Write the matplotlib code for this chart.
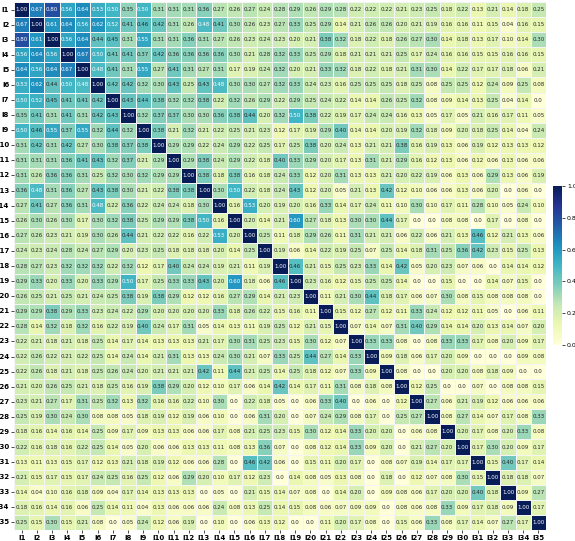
import numpy as np
import seaborn as sns
from matplotlib import pyplot as plt

names = ['I%d' % i for i in range(1, 36)]

# upper triangle of the matrix, row i holds columns i..35
upper = [
    [1.00, 0.67, 0.80, 0.56, 0.64, 0.53, 0.50, 0.35, 0.50, 0.31, 0.31, 0.31, 0.36, 0.27, 0.26, 0.27, 0.24, 0.28,
     0.29, 0.26, 0.29, 0.28, 0.22, 0.22, 0.22, 0.21, 0.23, 0.25, 0.18, 0.22, 0.13, 0.21, 0.14, 0.18, 0.25],
    [1.00, 0.61, 0.64, 0.56, 0.62, 0.52, 0.41, 0.46, 0.42, 0.31, 0.26, 0.48, 0.41, 0.30, 0.26, 0.23, 0.27,
     0.33, 0.25, 0.29, 0.14, 0.21, 0.26, 0.26, 0.20, 0.21, 0.19, 0.16, 0.16, 0.11, 0.15, 0.04, 0.16, 0.15],
    [1.00, 0.56, 0.64, 0.44, 0.45, 0.31, 0.55, 0.31, 0.31, 0.36, 0.31, 0.27, 0.26, 0.23, 0.24, 0.23,
     0.20, 0.21, 0.38, 0.32, 0.18, 0.22, 0.18, 0.26, 0.27, 0.30, 0.14, 0.18, 0.13, 0.17, 0.10, 0.14, 0.30],
    [1.00, 0.67, 0.50, 0.41, 0.41, 0.37, 0.42, 0.36, 0.36, 0.36, 0.36, 0.30, 0.21, 0.28, 0.32,
     0.33, 0.25, 0.29, 0.18, 0.21, 0.21, 0.21, 0.25, 0.17, 0.24, 0.16, 0.16, 0.15, 0.15, 0.16, 0.16, 0.15],
    [1.00, 0.48, 0.41, 0.31, 0.55, 0.27, 0.41, 0.31, 0.27, 0.31, 0.17, 0.19, 0.24, 0.32,
     0.20, 0.21, 0.33, 0.32, 0.18, 0.22, 0.18, 0.21, 0.31, 0.30, 0.14, 0.22, 0.17, 0.17, 0.18, 0.06, 0.21],
    [1.00, 0.42, 0.42, 0.32, 0.30, 0.43, 0.25, 0.43, 0.48, 0.30, 0.30, 0.27, 0.32,
     0.33, 0.24, 0.23, 0.16, 0.25, 0.25, 0.25, 0.18, 0.25, 0.08, 0.25, 0.25, 0.12, 0.24, 0.09, 0.25, 0.08],
    [1.00, 0.43, 0.44, 0.38, 0.32, 0.32, 0.38, 0.22, 0.32, 0.26, 0.29, 0.22,
     0.29, 0.25, 0.24, 0.22, 0.14, 0.14, 0.26, 0.25, 0.32, 0.08, 0.09, 0.14, 0.13, 0.25, 0.04, 0.14, 0.0],
    [1.00, 0.32, 0.37, 0.37, 0.30, 0.30, 0.36, 0.38, 0.44, 0.20, 0.32,
     0.50, 0.38, 0.22, 0.19, 0.17, 0.24, 0.24, 0.16, 0.13, 0.05, 0.17, 0.05, 0.21, 0.16, 0.17, 0.11, 0.05],
    [1.00, 0.38, 0.21, 0.32, 0.21, 0.22, 0.25, 0.21, 0.23, 0.12,
     0.17, 0.19, 0.29, 0.40, 0.14, 0.14, 0.20, 0.19, 0.32, 0.18, 0.09, 0.20, 0.18, 0.25, 0.14, 0.04, 0.24],
    [1.00, 0.29, 0.29, 0.22, 0.24, 0.29, 0.22, 0.25, 0.17,
     0.25, 0.38, 0.20, 0.24, 0.13, 0.21, 0.21, 0.38, 0.16, 0.19, 0.13, 0.06, 0.19, 0.12, 0.13, 0.13, 0.12],
    [1.00, 0.29, 0.38, 0.24, 0.29, 0.22, 0.18, 0.40,
     0.33, 0.29, 0.20, 0.17, 0.13, 0.31, 0.21, 0.29, 0.16, 0.12, 0.13, 0.06, 0.12, 0.06, 0.13, 0.06, 0.06],
    [1.00, 0.38, 0.18, 0.38, 0.16, 0.18, 0.24,
     0.33, 0.12, 0.20, 0.31, 0.13, 0.13, 0.21, 0.20, 0.22, 0.19, 0.06, 0.13, 0.06, 0.29, 0.13, 0.06, 0.19],
    [1.00, 0.30, 0.50, 0.22, 0.18, 0.24,
     0.43, 0.12, 0.20, 0.05, 0.21, 0.13, 0.42, 0.12, 0.10, 0.06, 0.06, 0.13, 0.06, 0.20, 0.0, 0.06, 0.0],
    [1.00, 0.16, 0.53, 0.20, 0.19,
     0.20, 0.16, 0.33, 0.14, 0.17, 0.24, 0.11, 0.10, 0.30, 0.10, 0.17, 0.11, 0.28, 0.10, 0.05, 0.24, 0.10],
    [1.00, 0.20, 0.14, 0.21,
     0.60, 0.27, 0.18, 0.13, 0.30, 0.30, 0.44, 0.17, 0.0, 0.0, 0.08, 0.08, 0.0, 0.17, 0.0, 0.08, 0.0],
    [1.00, 0.25, 0.11,
     0.18, 0.29, 0.26, 0.11, 0.31, 0.21, 0.21, 0.06, 0.22, 0.06, 0.21, 0.13, 0.46, 0.12, 0.21, 0.13, 0.06],
    [1.00, 0.19,
     0.06, 0.14, 0.22, 0.19, 0.25, 0.07, 0.25, 0.14, 0.18, 0.31, 0.25, 0.36, 0.42, 0.23, 0.15, 0.25, 0.13],
    [1.00,
     0.46, 0.21, 0.15, 0.25, 0.23, 0.33, 0.14, 0.42, 0.05, 0.20, 0.23, 0.07, 0.06, 0.0, 0.14, 0.14, 0.12],
    [1.00, 0.23, 0.16, 0.12, 0.15, 0.25, 0.25, 0.14, 0.0, 0.0, 0.15, 0.0, 0.0, 0.14, 0.07, 0.15, 0.0],
    [1.00, 0.11, 0.21, 0.30, 0.44, 0.18, 0.17, 0.06, 0.07, 0.30, 0.08, 0.15, 0.08, 0.08, 0.08, 0.0],
    [1.00, 0.15, 0.12, 0.27, 0.12, 0.11, 0.33, 0.24, 0.12, 0.12, 0.11, 0.05, 0.0, 0.06, 0.11],
    [1.00, 0.07, 0.14, 0.07, 0.31, 0.40, 0.29, 0.14, 0.14, 0.20, 0.13, 0.14, 0.07, 0.20],
    [1.00, 0.33, 0.33, 0.08, 0.0, 0.08, 0.33, 0.33, 0.17, 0.08, 0.20, 0.09, 0.17],
    [1.00, 0.09, 0.18, 0.06, 0.17, 0.20, 0.09, 0.0, 0.0, 0.0, 0.09, 0.08],
    [1.00, 0.08, 0.0, 0.0, 0.20, 0.20, 0.08, 0.18, 0.09, 0.0, 0.0],
    [1.00, 0.12, 0.25, 0.0, 0.0, 0.07, 0.0, 0.08, 0.08, 0.15],
    [1.00, 0.27, 0.06, 0.21, 0.19, 0.12, 0.06, 0.06, 0.06],
    [1.00, 0.08, 0.27, 0.14, 0.07, 0.17, 0.08, 0.33],
    [1.00, 0.20, 0.17, 0.08, 0.20, 0.33, 0.08],
    [1.00, 0.17, 0.30, 0.20, 0.09, 0.17],
    [1.00, 0.15, 0.40, 0.17, 0.14],
    [1.00, 0.18, 0.18, 0.07],
    [1.00, 0.09, 0.27],
    [1.00, 0.17],
    [1.00],
]

n = len(names)
corr = np.zeros((n, n))
for i, row in enumerate(upper):
    corr[i, i:] = row
    corr[i:, i] = row

labels = np.array([['0.0' if v == 0 else '%.2f' % v for v in r] for r in corr])

fig = plt.figure(figsize=(5.75, 5.41), dpi=100)
ax = fig.add_axes([14 / 575, 11 / 541, 532 / 575, 528 / 541])
cax = fig.add_axes([553 / 575, 196 / 541, 9 / 575, 159 / 541])

sns.heatmap(corr, ax=ax, cbar_ax=cax, cmap='YlGnBu', vmin=0, vmax=1,
            annot=labels, fmt='', annot_kws={'fontsize': 4},
            linewidths=0.4, linecolor='#f4f4f4',
            xticklabels=names, yticklabels=names)

ax.tick_params(axis='both', length=2, width=0.5, pad=1.5, labelsize=5)
for t in ax.get_xticklabels() + ax.get_yticklabels():
    t.set_fontweight('bold')
ax.set_xticklabels(ax.get_xticklabels(), rotation=0)
ax.set_yticklabels(ax.get_yticklabels(), rotation=0)

cax.tick_params(labelsize=4.5, length=2, width=0.5, pad=1.5)
cax.set_yticks([0.0, 0.2, 0.4, 0.6, 0.8, 1.0])

fig.savefig('out.png', dpi=100)
